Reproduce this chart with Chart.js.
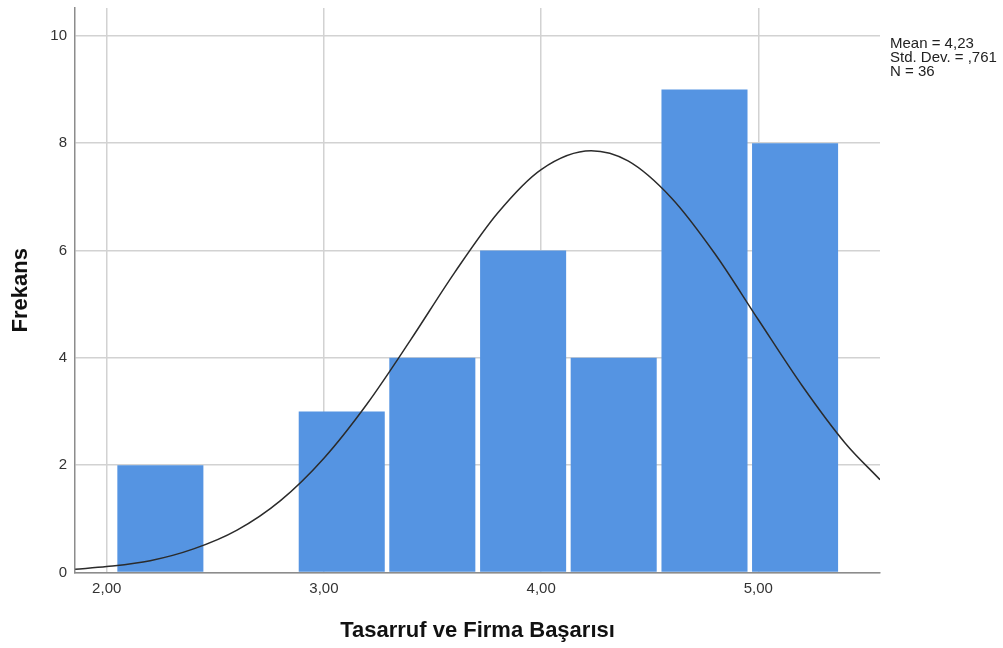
<!DOCTYPE html>
<html>
<head>
  <meta charset="utf-8">
  <script src="https://cdn.jsdelivr.net/npm/chart.js@4.4.1/dist/chart.umd.min.js"></script>
  <style>
    body { margin: 0; background: #fff; }
  </style>
</head>
<body>
  <canvas id="histChart" width="1003" height="648"></canvas>
  <script>
  // histogram bins (center of each bin) and counts
  const binCenters = [2.247, 2.664, 3.082, 3.499, 3.917, 4.334, 4.752, 5.169];
  const counts = [2, 0, 3, 4, 6, 4, 9, 8];

  // normal curve
  const curveX = [1.855, 2.0, 2.2, 2.4, 2.6, 2.8, 3.0, 3.2, 3.4, 3.6, 3.8, 4.0, 4.23, 4.4, 4.6, 4.8, 5.0, 5.2, 5.4, 5.56];
  const curveY = [0.06, 0.11, 0.22, 0.44, 0.79, 1.34, 2.13, 3.15, 4.34, 5.58, 6.70, 7.51, 7.86, 7.67, 6.98, 5.94, 4.71, 3.49, 2.41, 1.73];

  const xTicks = [2, 3, 4, 5];
  const yTicks = [0, 2, 4, 6, 8, 10];
  const statsLines = ['Mean = 4,23', 'Std. Dev. = ,761', 'N = 36'];

  const fontFamily = '"Liberation Sans", Arial, sans-serif';

  const statsBox = {
    id: 'statsBox',
    afterDraw(chart) {
      const ctx = chart.ctx;
      ctx.save();
      ctx.fillStyle = '#222';
      ctx.font = '15px ' + fontFamily;
      ctx.textBaseline = 'top';
      ctx.textAlign = 'left';
      statsLines.forEach((t, i) => ctx.fillText(t, 890, 36 + i * 14));
      ctx.restore();
    }
  };

  const ctx = document.getElementById('histChart').getContext('2d');
  new Chart(ctx, {
    type: 'bar',
    data: {
      datasets: [{
        type: 'line',
        data: curveX.map((x, i) => ({x: x, y: curveY[i]})),
        borderColor: '#2b2b2b',
        borderWidth: 1.5,
        pointRadius: 0,
        fill: false,
        cubicInterpolationMode: 'monotone',
        order: 0
      }, {
        type: 'bar',
        data: binCenters.map((x, i) => ({x: x, y: counts[i]})),
        backgroundColor: '#5594e2',
        borderWidth: 0,
        barPercentage: 0.95,
        categoryPercentage: 1.0,
        order: 1
      }]
    },
    options: {
      responsive: false,
      animation: false,
      layout: { padding: { left: 0, top: 8, right: 123, bottom: 0 } },
      plugins: {
        legend: { display: false },
        tooltip: { enabled: false }
      },
      scales: {
        x: {
          type: 'linear',
          offset: false,
          min: 1.854,
          max: 5.56,
          afterFit: (s) => { s.height = 75.5; s.paddingLeft = 0; s.paddingRight = 0; },
          afterBuildTicks: (s) => { s.ticks = xTicks.map(v => ({value: v})); },
          ticks: {
            padding: 7,
            color: '#333',
            font: { family: fontFamily, size: 15 },
            callback: (v) => v.toFixed(2).replace('.', ',')
          },
          grid: { color: '#d2d2d2', lineWidth: 1.5, drawTicks: false, offset: false },
          border: { color: '#8c8c8c', width: 1.5 },
          title: {
            display: true,
            text: 'Tasarruf ve Firma Başarısı',
            color: '#111',
            font: { family: fontFamily, size: 22, weight: 'bold' },
            padding: { top: 0, bottom: 4 }
          }
        },
        y: {
          min: 0,
          max: 10.52,
          afterFit: (s) => { s.width = 75; s.paddingTop = 0; s.paddingBottom = 0; },
          afterBuildTicks: (s) => { s.ticks = yTicks.map(v => ({value: v})); },
          ticks: {
            padding: 8,
            color: '#333',
            font: { family: fontFamily, size: 15 }
          },
          grid: { color: '#d2d2d2', lineWidth: 1.5, drawTicks: false },
          border: { color: '#8c8c8c', width: 1.5 },
          title: {
            display: true,
            text: 'Frekans',
            color: '#111',
            font: { family: fontFamily, size: 22, weight: 'bold' },
            padding: { top: 8, bottom: 0 }
          }
        }
      }
    },
    plugins: [statsBox]
  });
  </script>
</body>
</html>
